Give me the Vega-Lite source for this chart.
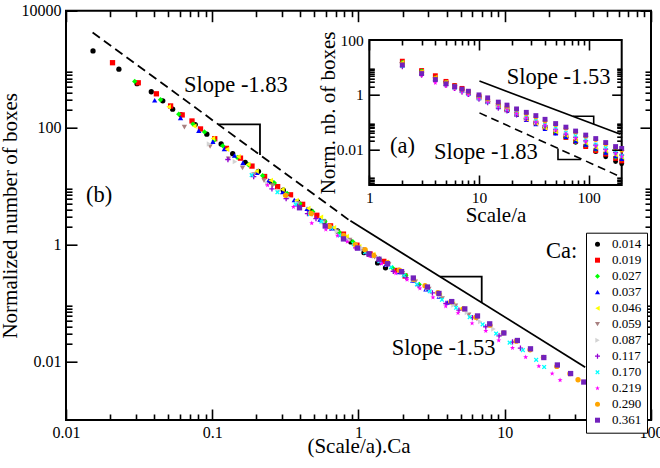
{
  "$schema": "https://vega.github.io/schema/vega-lite/v6.json",
  "width": 585,
  "height": 409.3,
  "autosize": "none",
  "padding": {"left": 66, "top": 10.7, "right": 9, "bottom": 48},
  "background": "white",
  "config": {
    "view": {"stroke": "#000000", "strokeWidth": 2},
    "font": "Liberation Serif"
  },
  "datasets": {
    "boxes": [
      {"ca":"0.014","x":0.0153,"y":2050,"s":2,"n":15.3},
      {"ca":"0.014","x":0.023,"y":1000,"s":3,"n":7.45},
      {"ca":"0.014","x":0.0306,"y":564,"s":4,"n":4.2},
      {"ca":"0.014","x":0.0383,"y":411,"s":5,"n":3.06},
      {"ca":"0.014","x":0.0459,"y":287,"s":6,"n":2.15},
      {"ca":"0.014","x":0.0536,"y":207,"s":7,"n":1.55},
      {"ca":"0.014","x":0.0612,"y":166,"s":8,"n":1.24},
      {"ca":"0.014","x":0.0765,"y":113,"s":10,"n":0.842},
      {"ca":"0.014","x":0.0918,"y":77.3,"s":12,"n":0.576},
      {"ca":"0.014","x":0.115,"y":52.5,"s":15,"n":0.392},
      {"ca":"0.014","x":0.138,"y":35.9,"s":18,"n":0.268},
      {"ca":"0.014","x":0.168,"y":25.5,"s":22,"n":0.19},
      {"ca":"0.014","x":0.207,"y":17.9,"s":27,"n":0.134},
      {"ca":"0.014","x":0.252,"y":11.9,"s":33,"n":0.0884},
      {"ca":"0.014","x":0.306,"y":8.53,"s":40,"n":0.0636},
      {"ca":"0.014","x":0.383,"y":5.42,"s":50,"n":0.0404},
      {"ca":"0.014","x":0.474,"y":3.74,"s":62,"n":0.0279},
      {"ca":"0.014","x":0.581,"y":2.46,"s":76,"n":0.0183},
      {"ca":"0.014","x":0.719,"y":1.71,"s":94,"n":0.0127},
      {"ca":"0.014","x":0.887,"y":1.11,"s":116,"n":0.00827},
      {"ca":"0.014","x":1.09,"y":0.727,"s":143,"n":0.00542},
      {"ca":"0.014","x":1.35,"y":0.486,"s":176,"n":0.00362},
      {"ca":"0.014","x":1.53,"y":0.401,"s":200,"n":0.00299},

      {"ca":"0.019","x":0.0208,"y":1290,"s":2,"n":16.8},
      {"ca":"0.019","x":0.0312,"y":585,"s":3,"n":7.63},
      {"ca":"0.019","x":0.0415,"y":379,"s":4,"n":4.94},
      {"ca":"0.019","x":0.0519,"y":235,"s":5,"n":3.07},
      {"ca":"0.019","x":0.0623,"y":165,"s":6,"n":2.15},
      {"ca":"0.019","x":0.0727,"y":130,"s":7,"n":1.7},
      {"ca":"0.019","x":0.0831,"y":95,"s":8,"n":1.24},
      {"ca":"0.019","x":0.104,"y":64.6,"s":10,"n":0.843},
      {"ca":"0.019","x":0.125,"y":44.2,"s":12,"n":0.576},
      {"ca":"0.019","x":0.156,"y":30.1,"s":15,"n":0.392},
      {"ca":"0.019","x":0.187,"y":22,"s":18,"n":0.287},
      {"ca":"0.019","x":0.228,"y":14.6,"s":22,"n":0.19},
      {"ca":"0.019","x":0.28,"y":9.79,"s":27,"n":0.128},
      {"ca":"0.019","x":0.343,"y":7.1,"s":33,"n":0.0926},
      {"ca":"0.019","x":0.415,"y":4.88,"s":40,"n":0.0637},
      {"ca":"0.019","x":0.519,"y":3.17,"s":50,"n":0.0414},
      {"ca":"0.019","x":0.644,"y":2.09,"s":62,"n":0.0273},
      {"ca":"0.019","x":0.789,"y":1.51,"s":76,"n":0.0197},
      {"ca":"0.019","x":0.976,"y":0.976,"s":94,"n":0.0127},
      {"ca":"0.019","x":1.2,"y":0.69,"s":116,"n":0.009},
      {"ca":"0.019","x":1.49,"y":0.516,"s":143,"n":0.00673},
      {"ca":"0.019","x":1.83,"y":0.361,"s":176,"n":0.00471},
      {"ca":"0.019","x":2.08,"y":0.291,"s":200,"n":0.0038},

      {"ca":"0.027","x":0.0295,"y":617,"s":2,"n":15.3},
      {"ca":"0.027","x":0.0443,"y":300,"s":3,"n":7.46},
      {"ca":"0.027","x":0.059,"y":170,"s":4,"n":4.21},
      {"ca":"0.027","x":0.0738,"y":115,"s":5,"n":2.86},
      {"ca":"0.027","x":0.0885,"y":84.5,"s":6,"n":2.1},
      {"ca":"0.027","x":0.103,"y":60.9,"s":7,"n":1.51},
      {"ca":"0.027","x":0.118,"y":48.8,"s":8,"n":1.21},
      {"ca":"0.027","x":0.148,"y":31,"s":10,"n":0.768},
      {"ca":"0.027","x":0.177,"y":23.2,"s":12,"n":0.576},
      {"ca":"0.027","x":0.221,"y":15.1,"s":15,"n":0.374},
      {"ca":"0.027","x":0.266,"y":11.3,"s":18,"n":0.281},
      {"ca":"0.027","x":0.325,"y":7.49,"s":22,"n":0.186},
      {"ca":"0.027","x":0.398,"y":5.03,"s":27,"n":0.125},
      {"ca":"0.027","x":0.487,"y":3.65,"s":33,"n":0.0905},
      {"ca":"0.027","x":0.59,"y":2.51,"s":40,"n":0.0622},
      {"ca":"0.027","x":0.738,"y":1.63,"s":50,"n":0.0404},
      {"ca":"0.027","x":0.915,"y":1.12,"s":62,"n":0.0279},
      {"ca":"0.027","x":1.12,"y":0.768,"s":76,"n":0.0191},
      {"ca":"0.027","x":1.39,"y":0.571,"s":94,"n":0.0142},
      {"ca":"0.027","x":1.71,"y":0.398,"s":116,"n":0.00988},
      {"ca":"0.027","x":2.11,"y":0.298,"s":143,"n":0.00739},
      {"ca":"0.027","x":2.6,"y":0.208,"s":176,"n":0.00517},
      {"ca":"0.027","x":2.95,"y":0.176,"s":200,"n":0.00436},

      {"ca":"0.037","x":0.0404,"y":295,"s":2,"n":13},
      {"ca":"0.037","x":0.0607,"y":147,"s":3,"n":6.49},
      {"ca":"0.037","x":0.0809,"y":88.9,"s":4,"n":3.93},
      {"ca":"0.037","x":0.101,"y":57.7,"s":5,"n":2.55},
      {"ca":"0.037","x":0.121,"y":43.3,"s":6,"n":1.91},
      {"ca":"0.037","x":0.142,"y":33.4,"s":7,"n":1.48},
      {"ca":"0.037","x":0.162,"y":25,"s":8,"n":1.1},
      {"ca":"0.037","x":0.202,"y":17,"s":10,"n":0.751},
      {"ca":"0.037","x":0.243,"y":12.5,"s":12,"n":0.55},
      {"ca":"0.037","x":0.303,"y":7.91,"s":15,"n":0.349},
      {"ca":"0.037","x":0.364,"y":5.8,"s":18,"n":0.256},
      {"ca":"0.037","x":0.445,"y":4.11,"s":22,"n":0.182},
      {"ca":"0.037","x":0.546,"y":2.7,"s":27,"n":0.119},
      {"ca":"0.037","x":0.667,"y":1.91,"s":33,"n":0.0845},
      {"ca":"0.037","x":0.809,"y":1.29,"s":40,"n":0.0567},
      {"ca":"0.037","x":1.01,"y":0.877,"s":50,"n":0.0387},
      {"ca":"0.037","x":1.25,"y":0.65,"s":62,"n":0.0287},
      {"ca":"0.037","x":1.54,"y":0.457,"s":76,"n":0.0202},
      {"ca":"0.037","x":1.9,"y":0.34,"s":94,"n":0.015},
      {"ca":"0.037","x":2.35,"y":0.243,"s":116,"n":0.0107},
      {"ca":"0.037","x":2.89,"y":0.173,"s":143,"n":0.00765},
      {"ca":"0.037","x":3.56,"y":0.13,"s":176,"n":0.00573},
      {"ca":"0.037","x":4.04,"y":0.102,"s":200,"n":0.00452},

      {"ca":"0.046","x":0.0503,"y":227,"s":2,"n":15},
      {"ca":"0.046","x":0.0754,"y":106,"s":3,"n":6.96},
      {"ca":"0.046","x":0.101,"y":65.4,"s":4,"n":4.3},
      {"ca":"0.046","x":0.126,"y":42.5,"s":5,"n":2.8},
      {"ca":"0.046","x":0.151,"y":31.9,"s":6,"n":2.1},
      {"ca":"0.046","x":0.176,"y":23.5,"s":7,"n":1.55},
      {"ca":"0.046","x":0.201,"y":18,"s":8,"n":1.18},
      {"ca":"0.046","x":0.251,"y":12.5,"s":10,"n":0.823},
      {"ca":"0.046","x":0.302,"y":8.76,"s":12,"n":0.576},
      {"ca":"0.046","x":0.377,"y":5.69,"s":15,"n":0.374},
      {"ca":"0.046","x":0.453,"y":4.17,"s":18,"n":0.274},
      {"ca":"0.046","x":0.553,"y":2.96,"s":22,"n":0.195},
      {"ca":"0.046","x":0.679,"y":1.94,"s":27,"n":0.128},
      {"ca":"0.046","x":0.83,"y":1.38,"s":33,"n":0.0905},
      {"ca":"0.046","x":1.01,"y":0.926,"s":40,"n":0.0609},
      {"ca":"0.046","x":1.26,"y":0.678,"s":50,"n":0.0446},
      {"ca":"0.046","x":1.56,"y":0.502,"s":62,"n":0.033},
      {"ca":"0.046","x":1.91,"y":0.354,"s":76,"n":0.0233},
      {"ca":"0.046","x":2.36,"y":0.263,"s":94,"n":0.0173},
      {"ca":"0.046","x":2.92,"y":0.183,"s":116,"n":0.012},
      {"ca":"0.046","x":3.6,"y":0.137,"s":143,"n":0.00901},
      {"ca":"0.046","x":4.42,"y":0.0958,"s":176,"n":0.0063},
      {"ca":"0.046","x":5.03,"y":0.0809,"s":200,"n":0.00532},

      {"ca":"0.059","x":0.0645,"y":102,"s":2,"n":10.6},
      {"ca":"0.059","x":0.0967,"y":47.5,"s":3,"n":4.92},
      {"ca":"0.059","x":0.129,"y":29.4,"s":4,"n":3.05},
      {"ca":"0.059","x":0.161,"y":20.4,"s":5,"n":2.12},
      {"ca":"0.059","x":0.193,"y":15.7,"s":6,"n":1.63},
      {"ca":"0.059","x":0.226,"y":12.4,"s":7,"n":1.29},
      {"ca":"0.059","x":0.258,"y":10.2,"s":8,"n":1.05},
      {"ca":"0.059","x":0.322,"y":6.91,"s":10,"n":0.717},
      {"ca":"0.059","x":0.387,"y":5.07,"s":12,"n":0.525},
      {"ca":"0.059","x":0.484,"y":3.29,"s":15,"n":0.341},
      {"ca":"0.059","x":0.58,"y":2.47,"s":18,"n":0.256},
      {"ca":"0.059","x":0.709,"y":1.67,"s":22,"n":0.173},
      {"ca":"0.059","x":0.871,"y":1.2,"s":27,"n":0.125},
      {"ca":"0.059","x":1.06,"y":0.831,"s":33,"n":0.0862},
      {"ca":"0.059","x":1.29,"y":0.608,"s":40,"n":0.0631},
      {"ca":"0.059","x":1.61,"y":0.456,"s":50,"n":0.0473},
      {"ca":"0.059","x":2,"y":0.323,"s":62,"n":0.0335},
      {"ca":"0.059","x":2.45,"y":0.232,"s":76,"n":0.0241},
      {"ca":"0.059","x":3.03,"y":0.173,"s":94,"n":0.0179},
      {"ca":"0.059","x":3.74,"y":0.12,"s":116,"n":0.0125},
      {"ca":"0.059","x":4.61,"y":0.0901,"s":143,"n":0.00934},
      {"ca":"0.059","x":5.67,"y":0.063,"s":176,"n":0.00653},
      {"ca":"0.059","x":6.45,"y":0.0532,"s":200,"n":0.00552},

      {"ca":"0.087","x":0.0951,"y":52.5,"s":2,"n":11.1},
      {"ca":"0.087","x":0.143,"y":26.2,"s":3,"n":5.52},
      {"ca":"0.087","x":0.19,"y":15.8,"s":4,"n":3.34},
      {"ca":"0.087","x":0.238,"y":11,"s":5,"n":2.32},
      {"ca":"0.087","x":0.285,"y":8.26,"s":6,"n":1.74},
      {"ca":"0.087","x":0.333,"y":6.37,"s":7,"n":1.35},
      {"ca":"0.087","x":0.38,"y":5.11,"s":8,"n":1.08},
      {"ca":"0.087","x":0.475,"y":3.48,"s":10,"n":0.733},
      {"ca":"0.087","x":0.571,"y":2.43,"s":12,"n":0.513},
      {"ca":"0.087","x":0.713,"y":1.69,"s":15,"n":0.357},
      {"ca":"0.087","x":0.856,"y":1.19,"s":18,"n":0.25},
      {"ca":"0.087","x":1.05,"y":0.873,"s":22,"n":0.184},
      {"ca":"0.087","x":1.28,"y":0.627,"s":27,"n":0.132},
      {"ca":"0.087","x":1.57,"y":0.454,"s":33,"n":0.0958},
      {"ca":"0.087","x":1.9,"y":0.356,"s":40,"n":0.0751},
      {"ca":"0.087","x":2.38,"y":0.249,"s":50,"n":0.0525},
      {"ca":"0.087","x":2.95,"y":0.176,"s":62,"n":0.0372},
      {"ca":"0.087","x":3.61,"y":0.133,"s":76,"n":0.028},
      {"ca":"0.087","x":4.47,"y":0.0922,"s":94,"n":0.0195},
      {"ca":"0.087","x":5.52,"y":0.0688,"s":116,"n":0.0145},
      {"ca":"0.087","x":6.8,"y":0.048,"s":143,"n":0.0101},
      {"ca":"0.087","x":8.37,"y":0.036,"s":176,"n":0.0076},
      {"ca":"0.087","x":9.51,"y":0.0284,"s":200,"n":0.00599},

      {"ca":"0.117","x":0.128,"y":28.5,"s":2,"n":10.4},
      {"ca":"0.117","x":0.192,"y":14.5,"s":3,"n":5.28},
      {"ca":"0.117","x":0.256,"y":8.99,"s":4,"n":3.27},
      {"ca":"0.117","x":0.32,"y":6.12,"s":5,"n":2.22},
      {"ca":"0.117","x":0.384,"y":4.59,"s":6,"n":1.67},
      {"ca":"0.117","x":0.448,"y":3.38,"s":7,"n":1.23},
      {"ca":"0.117","x":0.512,"y":2.77,"s":8,"n":1.01},
      {"ca":"0.117","x":0.639,"y":1.89,"s":10,"n":0.685},
      {"ca":"0.117","x":0.767,"y":1.38,"s":12,"n":0.502},
      {"ca":"0.117","x":0.959,"y":0.878,"s":15,"n":0.319},
      {"ca":"0.117","x":1.15,"y":0.69,"s":18,"n":0.25},
      {"ca":"0.117","x":1.41,"y":0.499,"s":22,"n":0.181},
      {"ca":"0.117","x":1.73,"y":0.35,"s":27,"n":0.127},
      {"ca":"0.117","x":2.11,"y":0.272,"s":33,"n":0.0986},
      {"ca":"0.117","x":2.56,"y":0.199,"s":40,"n":0.0722},
      {"ca":"0.117","x":3.2,"y":0.149,"s":50,"n":0.0541},
      {"ca":"0.117","x":3.96,"y":0.0984,"s":62,"n":0.0357},
      {"ca":"0.117","x":4.86,"y":0.0759,"s":76,"n":0.0276},
      {"ca":"0.117","x":6.01,"y":0.0565,"s":94,"n":0.0205},
      {"ca":"0.117","x":7.42,"y":0.0393,"s":116,"n":0.0143},
      {"ca":"0.117","x":9.14,"y":0.0275,"s":143,"n":0.00997},
      {"ca":"0.117","x":11.3,"y":0.0216,"s":176,"n":0.00782},
      {"ca":"0.117","x":12.8,"y":0.017,"s":200,"n":0.00617},

      {"ca":"0.170","x":0.186,"y":15.4,"s":2,"n":11.1},
      {"ca":"0.170","x":0.279,"y":7.86,"s":3,"n":5.65},
      {"ca":"0.170","x":0.372,"y":4.86,"s":4,"n":3.5},
      {"ca":"0.170","x":0.465,"y":3.31,"s":5,"n":2.38},
      {"ca":"0.170","x":0.557,"y":2.48,"s":6,"n":1.78},
      {"ca":"0.170","x":0.65,"y":1.92,"s":7,"n":1.38},
      {"ca":"0.170","x":0.743,"y":1.43,"s":8,"n":1.03},
      {"ca":"0.170","x":0.929,"y":1.02,"s":10,"n":0.733},
      {"ca":"0.170","x":1.11,"y":0.74,"s":12,"n":0.532},
      {"ca":"0.170","x":1.39,"y":0.518,"s":15,"n":0.372},
      {"ca":"0.170","x":1.67,"y":0.412,"s":18,"n":0.296},
      {"ca":"0.170","x":2.04,"y":0.298,"s":22,"n":0.214},
      {"ca":"0.170","x":2.51,"y":0.209,"s":27,"n":0.151},
      {"ca":"0.170","x":3.07,"y":0.159,"s":33,"n":0.114},
      {"ca":"0.170","x":3.72,"y":0.114,"s":40,"n":0.0816},
      {"ca":"0.170","x":4.65,"y":0.0831,"s":50,"n":0.0597},
      {"ca":"0.170","x":5.76,"y":0.0575,"s":62,"n":0.0413},
      {"ca":"0.170","x":7.06,"y":0.0433,"s":76,"n":0.0312},
      {"ca":"0.170","x":8.73,"y":0.0301,"s":94,"n":0.0216},
      {"ca":"0.170","x":10.8,"y":0.021,"s":116,"n":0.0151},
      {"ca":"0.170","x":13.3,"y":0.0157,"s":143,"n":0.0113},
      {"ca":"0.170","x":16.4,"y":0.0107,"s":176,"n":0.0077},
      {"ca":"0.170","x":18.6,"y":0.00806,"s":200,"n":0.0058},

      {"ca":"0.219","x":0.239,"y":10.4,"s":2,"n":11.9},
      {"ca":"0.219","x":0.359,"y":4.41,"s":3,"n":5.04},
      {"ca":"0.219","x":0.479,"y":2.32,"s":4,"n":2.65},
      {"ca":"0.219","x":0.598,"y":1.81,"s":5,"n":2.07},
      {"ca":"0.219","x":0.718,"y":1.42,"s":6,"n":1.63},
      {"ca":"0.219","x":0.838,"y":1.12,"s":7,"n":1.29},
      {"ca":"0.219","x":0.957,"y":0.86,"s":8,"n":0.983},
      {"ca":"0.219","x":1.2,"y":0.635,"s":10,"n":0.726},
      {"ca":"0.219","x":1.44,"y":0.472,"s":12,"n":0.54},
      {"ca":"0.219","x":1.8,"y":0.323,"s":15,"n":0.369},
      {"ca":"0.219","x":2.15,"y":0.251,"s":18,"n":0.287},
      {"ca":"0.219","x":2.63,"y":0.178,"s":22,"n":0.203},
      {"ca":"0.219","x":3.23,"y":0.125,"s":27,"n":0.143},
      {"ca":"0.219","x":3.95,"y":0.0882,"s":33,"n":0.101},
      {"ca":"0.219","x":4.79,"y":0.0676,"s":40,"n":0.0773},
      {"ca":"0.219","x":5.98,"y":0.0451,"s":50,"n":0.0516},
      {"ca":"0.219","x":7.42,"y":0.0335,"s":62,"n":0.0383},
      {"ca":"0.219","x":9.1,"y":0.023,"s":76,"n":0.0263},
      {"ca":"0.219","x":11.3,"y":0.0171,"s":94,"n":0.0196},
      {"ca":"0.219","x":13.9,"y":0.0119,"s":116,"n":0.0136},
      {"ca":"0.219","x":17.1,"y":0.00832,"s":143,"n":0.00951},
      {"ca":"0.219","x":21.1,"y":0.00623,"s":176,"n":0.00713},
      {"ca":"0.219","x":23.9,"y":0.0048,"s":200,"n":0.00549},

      {"ca":"0.290","x":0.317,"y":6.97,"s":2,"n":13.3},
      {"ca":"0.290","x":0.475,"y":3.4,"s":3,"n":6.49},
      {"ca":"0.290","x":0.634,"y":2.05,"s":4,"n":3.92},
      {"ca":"0.290","x":0.792,"y":1.43,"s":5,"n":2.73},
      {"ca":"0.290","x":0.951,"y":1,"s":6,"n":1.91},
      {"ca":"0.290","x":1.11,"y":0.817,"s":7,"n":1.56},
      {"ca":"0.290","x":1.27,"y":0.654,"s":8,"n":1.25},
      {"ca":"0.290","x":1.58,"y":0.49,"s":10,"n":0.936},
      {"ca":"0.290","x":1.9,"y":0.364,"s":12,"n":0.696},
      {"ca":"0.290","x":2.38,"y":0.255,"s":15,"n":0.487},
      {"ca":"0.290","x":2.85,"y":0.198,"s":18,"n":0.379},
      {"ca":"0.290","x":3.49,"y":0.15,"s":22,"n":0.287},
      {"ca":"0.290","x":4.28,"y":0.105,"s":27,"n":0.201},
      {"ca":"0.290","x":5.23,"y":0.0798,"s":33,"n":0.153},
      {"ca":"0.290","x":6.34,"y":0.0571,"s":40,"n":0.109},
      {"ca":"0.290","x":7.92,"y":0.0418,"s":50,"n":0.0799},
      {"ca":"0.290","x":9.83,"y":0.031,"s":62,"n":0.0593},
      {"ca":"0.290","x":12,"y":0.0223,"s":76,"n":0.0427},
      {"ca":"0.290","x":14.9,"y":0.0159,"s":94,"n":0.0303},
      {"ca":"0.290","x":18.4,"y":0.0118,"s":116,"n":0.0226},
      {"ca":"0.290","x":22.7,"y":0.00826,"s":143,"n":0.0158},
      {"ca":"0.290","x":27.9,"y":0.00619,"s":176,"n":0.0118},
      {"ca":"0.290","x":31.7,"y":0.00488,"s":200,"n":0.00933},

      {"ca":"0.361","x":0.395,"y":4.26,"s":2,"n":12.2},
      {"ca":"0.361","x":0.592,"y":2.08,"s":3,"n":5.92},
      {"ca":"0.361","x":0.789,"y":1.25,"s":4,"n":3.58},
      {"ca":"0.361","x":0.986,"y":0.873,"s":5,"n":2.49},
      {"ca":"0.361","x":1.18,"y":0.692,"s":6,"n":1.98},
      {"ca":"0.361","x":1.38,"y":0.562,"s":7,"n":1.6},
      {"ca":"0.361","x":1.58,"y":0.471,"s":8,"n":1.34},
      {"ca":"0.361","x":1.97,"y":0.345,"s":10,"n":0.984},
      {"ca":"0.361","x":2.37,"y":0.268,"s":12,"n":0.766},
      {"ca":"0.361","x":2.96,"y":0.188,"s":15,"n":0.536},
      {"ca":"0.361","x":3.55,"y":0.146,"s":18,"n":0.417},
      {"ca":"0.361","x":4.34,"y":0.106,"s":22,"n":0.302},
      {"ca":"0.361","x":5.33,"y":0.0795,"s":27,"n":0.227},
      {"ca":"0.361","x":6.51,"y":0.0602,"s":33,"n":0.172},
      {"ca":"0.361","x":7.89,"y":0.0441,"s":40,"n":0.126},
      {"ca":"0.361","x":9.86,"y":0.0308,"s":50,"n":0.088},
      {"ca":"0.361","x":12.2,"y":0.0229,"s":62,"n":0.0652},
      {"ca":"0.361","x":15,"y":0.0165,"s":76,"n":0.0469},
      {"ca":"0.361","x":18.5,"y":0.0117,"s":94,"n":0.0334},
      {"ca":"0.361","x":22.9,"y":0.00873,"s":116,"n":0.0249},
      {"ca":"0.361","x":28.2,"y":0.00623,"s":143,"n":0.0178},
      {"ca":"0.361","x":34.7,"y":0.00446,"s":176,"n":0.0127},
      {"ca":"0.361","x":39.5,"y":0.00377,"s":200,"n":0.0108}
    ]
  },
  "layer": [
    {
      "data": {"name": "boxes"},
      "mark": {"type": "point", "filled": true, "size": 28, "opacity": 1, "strokeWidth": 0, "clip": false},
      "encoding": {
        "x": {"field": "x", "type": "quantitative",
          "scale": {"type": "log", "domain": [0.01, 100], "nice": false},
          "axis": {"orient": "bottom", "offset": -11, "tickSize": 11, "values": [0.01, 0.1, 1, 10, 100], "format": "~g",
            "domain": false, "grid": false, "tickColor": "black", "tickWidth": 1.6, "zindex": 0,
            "labelPadding": 4, "labelFontSize": 16, "labelFont": "Liberation Serif", "labelColor": "black",
            "labelFlush": false, "labelOverlap": false, "labelBound": false,
            "title": "(Scale/a).Ca", "titleFont": "Liberation Serif", "titleFontWeight": "normal", "titleColor": "black",
            "titleFontSize": 21, "titleBaseline": "alphabetic", "titleY": 43}},
        "y": {"field": "y", "type": "quantitative",
          "scale": {"type": "log", "domain": [0.001, 10000], "nice": false},
          "axis": {"orient": "left", "offset": -11, "tickSize": 11, "values": [0.01, 1, 100, 10000], "format": "~g",
            "domain": false, "grid": false, "tickColor": "black", "tickWidth": 1.6, "zindex": 0,
            "labelPadding": 5, "labelFontSize": 16, "labelFont": "Liberation Serif", "labelColor": "black",
            "labelFlush": false, "labelOverlap": false, "labelBound": false,
            "title": "Normalized number of boxes", "titleFont": "Liberation Serif", "titleFontWeight": "normal", "titleColor": "black",
            "titleFontSize": 21, "titleX": -61, "titleY": 204.65, "titleBaseline": "alphabetic"}},
        "color": {"field": "ca", "type": "nominal",
          "scale": {
            "domain": ["0.014","0.019","0.027","0.037","0.046","0.059","0.087","0.117","0.170","0.219","0.290","0.361"],
            "range": ["#000000","#ff0000","#00ff00","#0000ff","#ffff00","#a88080","#d3d3d3","#9400d3","#00ffff","#ff00ff","#ffa500","#7221bc"]
          },
          "legend": {"orient": "none", "legendX": 520, "legendY": 222, "title": null,
            "fillColor": "white", "strokeColor": "black", "padding": 5, "rowPadding": 2,
            "labelFontSize": 13, "labelFont": "Liberation Serif", "labelColor": "black",
            "labelOffset": 8, "symbolSize": 25, "symbolStrokeWidth": 0,
            "encode": {"legend": {"update": {"strokeWidth": {"value": 2}}}}}},
        "shape": {"field": "ca", "type": "nominal",
          "scale": {
            "domain": ["0.014","0.019","0.027","0.037","0.046","0.059","0.087","0.117","0.170","0.219","0.290","0.361"],
            "range": ["circle","square","diamond","triangle-up","triangle-left","triangle-down","triangle-right",
              "M-1,-0.25H-0.25V-1H0.25V-0.25H1V0.25H0.25V1H-0.25V0.25H-1Z",
              "M-0.88,-0.53L-0.53,-0.88L0,-0.35L0.53,-0.88L0.88,-0.53L0.35,0L0.88,0.53L0.53,0.88L0,0.35L-0.53,0.88L-0.88,0.53L-0.35,0Z",
              "M0,-1L0.235,-0.324L0.951,-0.309L0.38,0.124L0.588,0.809L0,0.4L-0.588,0.809L-0.38,0.124L-0.951,-0.309L-0.235,-0.324Z",
              "circle","square"]
          },
          "legend": {"orient": "none", "legendX": 520, "legendY": 222, "title": null,
            "fillColor": "white", "strokeColor": "black", "padding": 5, "rowPadding": 2,
            "labelFontSize": 13, "labelFont": "Liberation Serif", "labelColor": "black",
            "labelOffset": 8, "symbolSize": 25, "symbolStrokeWidth": 0,
            "encode": {"legend": {"update": {"strokeWidth": {"value": 2}}}}}}
      }
    },
    {
      "data": {"values": [{"x": 0.0152, "y": 4250}, {"x": 0.87, "y": 2.58}]},
      "mark": {"type": "line", "color": "black", "strokeWidth": 1.8, "strokeDash": [9, 5], "clip": false},
      "encoding": {
        "x": {"field": "x", "type": "quantitative",
          "scale": {"type": "log", "domain": [0.01, 100], "nice": false},
          "axis": {"orient": "bottom", "offset": -6, "tickSize": 6, "title": null, "labels": false,
            "domain": false, "grid": false, "tickColor": "black", "tickWidth": 1.6, "zindex": 0,
            "values": [0.02,0.03,0.04,0.05,0.06,0.07,0.08,0.09,0.2,0.3,0.4,0.5,0.6,0.7,0.8,0.9,2,3,4,5,6,7,8,9,20,30,40,50,60,70,80,90]}},
        "y": {"field": "y", "type": "quantitative",
          "scale": {"type": "log", "domain": [0.001, 10000], "nice": false},
          "axis": {"orient": "left", "offset": -6, "tickSize": 6, "title": null, "labels": false,
            "domain": false, "grid": false, "tickColor": "black", "tickWidth": 1.6, "zindex": 0,
            "values": [0.02,0.03,0.04,0.05,0.06,0.07,0.08,0.09,2,3,4,5,6,7,8,9,200,300,400,500,600,700,800,900]}}
      }
    },
    {
      "data": {"values": [
        {"g": "slope", "o": 0, "x": 0.88, "y": 2.55},
        {"g": "slope", "o": 1, "x": 35.5, "y": 0.008},
        {"g": "tri183", "o": 0, "x": 0.11, "y": 113.6},
        {"g": "tri183", "o": 1, "x": 0.212, "y": 113.6},
        {"g": "tri183", "o": 2, "x": 0.212, "y": 34.2},
        {"g": "tri153", "o": 0, "x": 3.608, "y": 0.2826},
        {"g": "tri153", "o": 1, "x": 6.958, "y": 0.2826},
        {"g": "tri153", "o": 2, "x": 6.958, "y": 0.1015}
      ]},
      "mark": {"type": "line", "color": "black", "strokeWidth": 1.8, "clip": false},
      "encoding": {
        "x": {"field": "x", "type": "quantitative",
          "scale": {"type": "log", "domain": [0.01, 100], "nice": false},
          "axis": {"orient": "top", "offset": -11, "tickSize": 11, "title": null, "labels": false,
            "domain": false, "grid": false, "tickColor": "black", "tickWidth": 1.6, "zindex": 0,
            "values": [0.01, 0.1, 1, 10, 100]}},
        "y": {"field": "y", "type": "quantitative",
          "scale": {"type": "log", "domain": [0.001, 10000], "nice": false},
          "axis": {"orient": "right", "offset": -11, "tickSize": 11, "title": null, "labels": false,
            "domain": false, "grid": false, "tickColor": "black", "tickWidth": 1.6, "zindex": 0,
            "values": [0.01, 1, 100, 10000]}},
        "detail": {"field": "g", "type": "nominal"},
        "order": {"field": "o", "type": "quantitative"}
      }
    },
    {
      "data": {"values": [
        {"t": "Slope -1.83", "x": 0.0641, "y": 415},
        {"t": "(b)", "x": 0.0137, "y": 5.35},
        {"t": "Slope -1.53", "x": 1.687, "y": 0.01268},
        {"t": "Ca:", "x": 19.15, "y": 0.59}
      ]},
      "mark": {"type": "text", "align": "left", "baseline": "alphabetic", "fontSize": 22.5,
        "font": "Liberation Serif", "color": "black", "clip": false},
      "encoding": {
        "x": {"field": "x", "type": "quantitative",
          "scale": {"type": "log", "domain": [0.01, 100], "nice": false},
          "axis": {"orient": "top", "offset": -6, "tickSize": 6, "title": null, "labels": false,
            "domain": false, "grid": false, "tickColor": "black", "tickWidth": 1.6, "zindex": 0,
            "values": [0.02,0.03,0.04,0.05,0.06,0.07,0.08,0.09,0.2,0.3,0.4,0.5,0.6,0.7,0.8,0.9,2,3,4,5,6,7,8,9,20,30,40,50,60,70,80,90]}},
        "y": {"field": "y", "type": "quantitative",
          "scale": {"type": "log", "domain": [0.001, 10000], "nice": false},
          "axis": {"orient": "right", "offset": -6, "tickSize": 6, "title": null, "labels": false,
            "domain": false, "grid": false, "tickColor": "black", "tickWidth": 1.6, "zindex": 0,
            "values": [0.02,0.03,0.04,0.05,0.06,0.07,0.08,0.09,2,3,4,5,6,7,8,9,200,300,400,500,600,700,800,900]}},
        "text": {"field": "t", "type": "nominal"}
      }
    },
    {
      "data": {"values": [{"x": 1, "x2": 200, "y": 0.0005, "y2": 100}]},
      "mark": {"type": "rect", "fill": "white", "stroke": "black", "strokeWidth": 2},
      "encoding": {
        "x": {"field": "x", "type": "quantitative",
          "scale": {"type": "log", "domain": [1, 200], "range": [303.3, 555.7], "nice": false},
          "axis": {"orient": "bottom", "offset": -245, "tickSize": 10, "values": [1, 10, 100], "format": "~g",
            "domain": false, "grid": false, "tickColor": "black", "tickWidth": 1.6, "zindex": 1,
            "labelPadding": 5, "labelFontSize": 15.5, "labelFont": "Liberation Serif", "labelColor": "black",
            "labelFlush": false, "labelOverlap": false, "labelBound": false,
            "title": "Scale/a", "titleFont": "Liberation Serif", "titleFontWeight": "normal", "titleColor": "black",
            "titleFontSize": 21, "titleBaseline": "alphabetic", "titleY": 46.5}},
        "x2": {"field": "x2"},
        "y": {"field": "y", "type": "quantitative",
          "scale": {"type": "log", "domain": [0.0005, 100], "range": [174.3, 29.3], "nice": false},
          "axis": {"orient": "left", "offset": -313.3, "tickSize": 10, "values": [0.01, 1, 100], "format": "~g",
            "domain": false, "grid": false, "tickColor": "black", "tickWidth": 1.6, "zindex": 1,
            "labelPadding": 6, "labelFontSize": 15.5, "labelFont": "Liberation Serif", "labelColor": "black",
            "labelFlush": false, "labelOverlap": false, "labelBound": false,
            "title": "Norm. nb. of boxes", "titleFont": "Liberation Serif", "titleFontWeight": "normal", "titleColor": "black",
            "titleFontSize": 21, "titleX": -45, "titleY": 101.8, "titleBaseline": "alphabetic"}},
        "y2": {"field": "y2"}
      }
    },
    {
      "data": {"name": "boxes"},
      "mark": {"type": "point", "filled": true, "size": 24, "opacity": 1, "strokeWidth": 0, "clip": false},
      "encoding": {
        "x": {"field": "s", "type": "quantitative",
          "scale": {"type": "log", "domain": [1, 200], "range": [303.3, 555.7], "nice": false},
          "axis": {"orient": "bottom", "offset": -240, "tickSize": 5, "title": null, "labels": false,
            "domain": false, "grid": false, "tickColor": "black", "tickWidth": 1.6, "zindex": 1,
            "values": [2,3,4,5,6,7,8,9,20,30,40,50,60,70,80,90]}},
        "y": {"field": "n", "type": "quantitative",
          "scale": {"type": "log", "domain": [0.0005, 100], "range": [174.3, 29.3], "nice": false},
          "axis": {"orient": "left", "offset": -308.3, "tickSize": 5, "title": null, "labels": false,
            "domain": false, "grid": false, "tickColor": "black", "tickWidth": 1.6, "zindex": 1,
            "values": [0.0006,0.0007,0.0008,0.0009,0.02,0.03,0.04,0.05,0.06,0.07,0.08,0.09,2,3,4,5,6,7,8,9]}},
        "color": {"field": "ca", "type": "nominal", "legend": null},
        "shape": {"field": "ca", "type": "nominal", "legend": null}
      }
    },
    {
      "data": {"values": [
        {"g": "slope", "o": 0, "x": 10.1, "y": 3.15},
        {"g": "slope", "o": 1, "x": 195, "y": 0.036},
        {"g": "tri153", "o": 0, "x": 72, "y": 0.1623},
        {"g": "tri153", "o": 1, "x": 111.1, "y": 0.1623},
        {"g": "tri153", "o": 2, "x": 111.1, "y": 0.0843},
        {"g": "tri183", "o": 0, "x": 52.5, "y": 0.0108},
        {"g": "tri183", "o": 1, "x": 52.5, "y": 0.00427},
        {"g": "tri183", "o": 2, "x": 85, "y": 0.00427}
      ]},
      "mark": {"type": "line", "color": "black", "strokeWidth": 1.6, "clip": false},
      "encoding": {
        "x": {"field": "x", "type": "quantitative",
          "scale": {"type": "log", "domain": [1, 200], "range": [303.3, 555.7], "nice": false},
          "axis": {"orient": "top", "offset": -39.3, "tickSize": 10, "title": null, "labels": false,
            "domain": false, "grid": false, "tickColor": "black", "tickWidth": 1.6, "zindex": 1,
            "values": [1, 10, 100]}},
        "y": {"field": "y", "type": "quantitative",
          "scale": {"type": "log", "domain": [0.0005, 100], "range": [174.3, 29.3], "nice": false},
          "axis": {"orient": "right", "offset": -39.3, "tickSize": 10, "title": null, "labels": false,
            "domain": false, "grid": false, "tickColor": "black", "tickWidth": 1.6, "zindex": 1,
            "values": [0.01, 1, 100]}},
        "detail": {"field": "g", "type": "nominal"},
        "order": {"field": "o", "type": "quantitative"}
      }
    },
    {
      "data": {"values": [{"x": 10.1, "y": 0.217}, {"x": 181.6, "y": 0.00114}]},
      "mark": {"type": "line", "color": "black", "strokeWidth": 1.6, "strokeDash": [8, 5], "clip": false},
      "encoding": {
        "x": {"field": "x", "type": "quantitative",
          "scale": {"type": "log", "domain": [1, 200], "range": [303.3, 555.7], "nice": false},
          "axis": {"orient": "top", "offset": -34.3, "tickSize": 5, "title": null, "labels": false,
            "domain": false, "grid": false, "tickColor": "black", "tickWidth": 1.6, "zindex": 1,
            "values": [2,3,4,5,6,7,8,9,20,30,40,50,60,70,80,90]}},
        "y": {"field": "y", "type": "quantitative",
          "scale": {"type": "log", "domain": [0.0005, 100], "range": [174.3, 29.3], "nice": false},
          "axis": {"orient": "right", "offset": -34.3, "tickSize": 5, "title": null, "labels": false,
            "domain": false, "grid": false, "tickColor": "black", "tickWidth": 1.6, "zindex": 1,
            "values": [0.0006,0.0007,0.0008,0.0009,0.02,0.03,0.04,0.05,0.06,0.07,0.08,0.09,2,3,4,5,6,7,8,9]}}
      }
    },
    {
      "data": {"values": [
        {"t": "Slope -1.53", "x": 17.9, "y": 2.44},
        {"t": "Slope -1.83", "x": 3.89, "y": 0.00438},
        {"t": "(a)", "x": 1.544, "y": 0.00726}
      ]},
      "mark": {"type": "text", "align": "left", "baseline": "alphabetic", "fontSize": 22.5,
        "font": "Liberation Serif", "color": "black", "clip": false},
      "encoding": {
        "x": {"field": "x", "type": "quantitative",
          "scale": {"type": "log", "domain": [1, 200], "range": [303.3, 555.7], "nice": false},
          "axis": null},
        "y": {"field": "y", "type": "quantitative",
          "scale": {"type": "log", "domain": [0.0005, 100], "range": [174.3, 29.3], "nice": false},
          "axis": null},
        "text": {"field": "t", "type": "nominal"}
      }
    }
  ],
  "resolve": {"scale": {"x": "independent", "y": "independent"}}
}
